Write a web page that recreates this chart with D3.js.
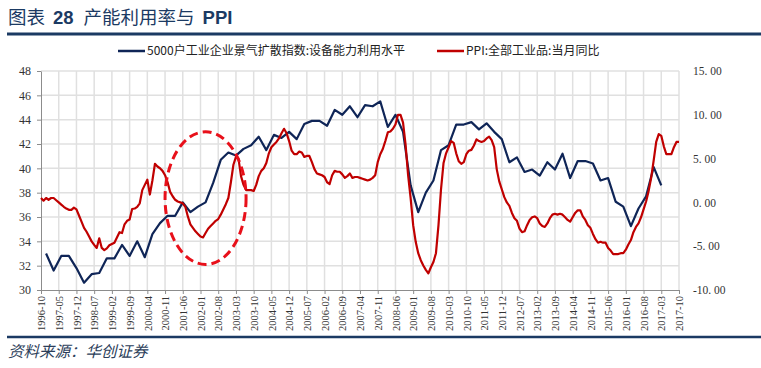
<!DOCTYPE html>
<html>
<head>
<meta charset="utf-8">
<script src="https://cdn.jsdelivr.net/npm/d3@7"></script>
<style>
  body { margin: 0; background: #fff; }
  svg { display: block; }
</style>
</head>
<body>
<div id="chart"></div>
<script>
'use strict';

// tick labels of the date axis (every 7 months)
const x_tick_labels = ['1996-10','1997-05','1997-12','1998-07','1999-02','1999-09','2000-04','2000-11',
    '2001-06','2002-01','2002-08','2003-03','2003-10','2004-05','2004-12','2005-07','2006-02','2006-09',
    '2007-04','2007-11','2008-06','2009-01','2009-08','2010-03','2010-10','2011-05','2011-12','2012-07',
    '2013-02','2013-09','2014-04','2014-11','2015-06','2016-01','2016-08','2017-03','2017-10'];

const left_ticks = [30, 32, 34, 36, 38, 40, 42, 44, 46, 48];
const right_ticks = [-10, -5, 0, 5, 10, 15];

const series_names = ['5000户工业企业景气扩散指数:设备能力利用水平', 'PPI:全部工业品:当月同比'];

// quarterly capacity utilisation, first quarter 1996-12
const util_start = '1996-12';
const util_values = [33.0, 31.6, 32.8, 32.8, 31.8, 30.6, 31.3, 31.4, 32.6, 32.6,
    33.7, 32.8, 34.0, 32.7, 34.6, 35.5, 36.1, 36.1, 37.2, 36.4,
    36.85, 37.2, 38.8, 40.7, 41.3, 41.05, 41.6, 41.9, 42.6, 41.5,
    42.75, 42.5, 43.0, 42.4, 43.65, 43.9, 43.9, 43.5, 44.8, 44.4,
    45.1, 44.2, 45.2, 45.1, 45.5, 43.4, 44.4, 43.0, 38.6, 36.4,
    38.0, 39.0, 41.5, 41.9, 43.6, 43.6, 43.8, 43.2, 43.7, 43.0,
    42.4, 40.5, 40.9, 39.7, 39.9, 39.4, 40.5, 39.9, 41.2, 39.2,
    40.6, 40.6, 40.4, 39.0, 39.2, 37.25, 36.85, 35.25, 36.7, 37.7,
    40.1, 38.6];

// monthly PPI yoy, first month 1996-10
const ppi_start = '1996-10';
const ppi_values = [0.5, 0.2, 0.5, 0.3, 0.5, 0.5, 0.25, 0.0, -0.25, -0.5,
    -0.7, -0.85, -0.85, -0.6, -0.8, -1.5, -2.2, -2.9, -3.35, -3.9,
    -4.45, -4.85, -5.2, -4.1, -5.2, -5.45, -5.25, -4.9, -4.75, -4.6,
    -4.0, -3.4, -3.5, -2.5, -2.1, -1.95, -0.75, -0.7, -0.5, -0.1,
    1.4, 2.0, 2.6, 0.9, 2.5, 4.4, 4.1, 3.9, 3.6, 3.1,
    2.3, 1.2, 0.7, 0.3, 0.1, 0.0, -0.1, -0.5, -1.6, -2.5,
    -2.9, -3.3, -3.6, -3.9, -4.0, -3.5, -3.0, -2.7, -2.4, -2.1,
    -1.9, -1.4, -0.8, -0.2, 0.5, 2.3, 4.3, 5.2, 5.0, 3.0,
    2.0, 1.4, 1.4, 1.4, 1.3, 2.0, 3.0, 3.6, 3.9, 4.5,
    5.6, 6.3, 6.6, 6.9, 7.3, 7.9, 8.4, 7.9, 7.0, 5.9,
    5.5, 5.5, 5.8, 5.7, 5.2, 5.3, 5.3, 4.6, 3.8, 3.3,
    3.2, 3.1, 2.9, 2.3, 2.1, 3.1, 3.6, 3.5, 3.5, 3.2,
    2.8, 3.0, 3.3, 2.8, 2.9, 2.9, 2.8, 2.7, 2.6, 2.5,
    2.6, 2.8, 3.1, 4.6, 5.5, 6.1, 7.0, 8.0, 8.1, 8.4,
    8.9, 10.0, 10.0, 9.1, 6.6, 3.1, 0.5, -2.6, -4.5, -5.8,
    -6.6, -7.2, -7.7, -8.1, -7.4, -6.8, -5.8, -2.6, 1.5, 4.5,
    5.6, 6.3, 7.0, 6.8, 5.6, 4.7, 4.4, 4.6, 5.5, 5.9,
    6.0, 6.5, 7.2, 7.0, 6.9, 7.0, 7.3, 7.5, 7.1, 6.3,
    3.8, 2.4, 1.5, 0.6, 0.0, -0.4, -1.2, -1.8, -2.1, -3.0,
    -3.4, -3.3, -2.6, -2.0, -1.7, -1.6, -1.8, -2.4, -2.7, -2.8,
    -2.4, -1.8, -1.4, -1.3, -1.4, -1.3, -1.4, -1.7, -2.0, -2.2,
    -1.7, -1.2, -0.9, -0.9, -1.6, -2.0, -2.6, -2.9, -3.6, -4.2,
    -4.6, -4.5, -4.6, -4.6, -5.2, -5.5, -5.9, -5.9, -5.9, -5.8,
    -5.8, -5.4, -4.8, -4.3, -3.4, -2.8, -2.4, -1.7, -0.8, 0.1,
    1.3, 2.8, 4.8, 6.9, 7.8, 7.6, 6.4, 5.5, 5.5, 5.5,
    6.3, 6.9, 6.9];

// dashed ellipse annotation (date range / left-axis range it encloses)
const highlight = { from: '2000-11', to: '2003-07', low: 32.1, high: 43.0 };

// layout
const width = 761, height = 368;
const plot = { left: 41, right: 679, top: 71, bottom: 290 };
const navy = '#1b3a63';
const color_util = '#0f2557';
const color_ppi = '#c00000';
const grid_color = '#e0e0e0';
const axis_color = '#8c8c8c';
const num_font = '"Liberation Serif", "DejaVu Serif", serif';
const cjk_font = '"Noto Sans CJK SC", "Noto Sans", sans-serif';
const latin_font = '"Liberation Sans", Arial, sans-serif';

// month index counted from 1996-10
function month_index(s){
    const [y, m] = s.split('-').map(Number);
    return (y - 1996)*12 + (m - 10);
}

const util_data = util_values.map((v, i) => ({ m: month_index(util_start) + 3*i, v: v }));
const ppi_data = ppi_values.map((v, i) => ({ m: month_index(ppi_start) + i, v: v }));

// scales
const x = d3.scaleLinear()
    .domain([month_index(x_tick_labels[0]), month_index(x_tick_labels[x_tick_labels.length - 1])])
    .range([plot.left, plot.right]);
const y_left = d3.scaleLinear().domain([30, 48]).range([plot.bottom, plot.top]);
const y_right = d3.scaleLinear().domain([-10, 15]).range([plot.bottom, plot.top]);

const svg = d3.select('#chart').append('svg')
    .attr('width', width)
    .attr('height', height);

svg.append('rect').attr('width', width).attr('height', height).attr('fill', '#fff');

// title
const title = svg.append('text')
    .attr('x', 8)
    .attr('y', 24)
    .attr('fill', navy)
    .attr('font-family', cjk_font)
    .attr('font-size', '18.5px');
title.append('tspan').text('图表');
title.append('tspan').attr('dx', 8).attr('font-family', latin_font).attr('font-weight', 'bold').text('28');
title.append('tspan').attr('dx', 10).text('产能利用率与');
title.append('tspan').attr('dx', 8).attr('font-family', latin_font).attr('font-weight', 'bold').text('PPI');

svg.append('line')
    .attr('x1', 7).attr('x2', width)
    .attr('y1', 34).attr('y2', 34)
    .attr('stroke', navy)
    .attr('stroke-width', 3);

// legend
const legend_items = [
    { name: series_names[0], color: color_util, x: 118 },
    { name: series_names[1], color: color_ppi, x: 437 }
];
const legend_g = svg.append('g').attr('transform', 'translate(0,51)');
legend_items.forEach(d => {
    legend_g.append('line')
        .attr('x1', d.x).attr('x2', d.x + 27)
        .attr('y1', 0).attr('y2', 0)
        .attr('stroke', d.color)
        .attr('stroke-width', 2.5);
    legend_g.append('text')
        .attr('x', d.x + 29)
        .attr('y', 0)
        .attr('dy', '0.35em')
        .attr('fill', '#222')
        .attr('font-family', cjk_font)
        .attr('font-size', '12px')
        .text(d.name);
});

// grid
const x_tick_values = x_tick_labels.map(month_index);
const grid_g = svg.append('g');
grid_g.selectAll('line.h')
    .data(left_ticks.slice(1))
    .enter()
    .append('line')
    .attr('x1', plot.left).attr('x2', plot.right)
    .attr('y1', d => y_left(d)).attr('y2', d => y_left(d))
    .attr('stroke', grid_color)
    .attr('stroke-width', 1.5);
grid_g.selectAll('line.v')
    .data(x_tick_values.slice(1))
    .enter()
    .append('line')
    .attr('x1', d => x(d)).attr('x2', d => x(d))
    .attr('y1', plot.top).attr('y2', plot.bottom)
    .attr('stroke', grid_color)
    .attr('stroke-width', 1.5);

// axes
const left_axis = svg.append('g')
    .attr('transform', `translate(${plot.left},0)`)
    .call(d3.axisLeft(y_left).tickValues(left_ticks).tickSize(4).tickSizeOuter(0).tickPadding(6));

const bottom_axis = svg.append('g')
    .attr('transform', `translate(0,${plot.bottom})`)
    .call(d3.axisBottom(x).tickValues(x_tick_values)
        .tickFormat((d, i) => x_tick_labels[i])
        .tickSize(4).tickSizeOuter(0));

bottom_axis.selectAll('text')
    .attr('text-anchor', 'end')
    .attr('transform', 'rotate(-90)')
    .attr('x', -6)
    .attr('y', 0)
    .attr('dy', '0.35em')
    .attr('font-size', '10.5px');

const right_axis = svg.append('g')
    .attr('transform', `translate(${plot.right},0)`)
    .call(d3.axisRight(y_right).tickValues(right_ticks)
        .tickFormat(d => d3.format('.2f')(d).replace('\u2212', '-').replace('.', '. '))
        .tickSize(0).tickPadding(14));
right_axis.select('.domain').remove();

[left_axis, bottom_axis, right_axis].forEach(g => {
    g.selectAll('.domain, .tick line').attr('stroke', axis_color);
    g.selectAll('text').attr('fill', '#333').attr('font-family', num_font);
});
left_axis.selectAll('text').attr('font-size', '12px');
right_axis.selectAll('text').attr('font-size', '11.5px').style('white-space', 'pre');

// lines
const util_line = d3.line().x(d => x(d.m)).y(d => y_left(d.v));
const ppi_line = d3.line().x(d => x(d.m)).y(d => y_right(d.v));

svg.append('path')
    .datum(util_data)
    .attr('d', util_line)
    .attr('fill', 'none')
    .attr('stroke', color_util)
    .attr('stroke-width', 2.2)
    .attr('stroke-linejoin', 'round');

svg.append('path')
    .datum(ppi_data)
    .attr('d', ppi_line)
    .attr('fill', 'none')
    .attr('stroke', color_ppi)
    .attr('stroke-width', 2.2)
    .attr('stroke-linejoin', 'round');

// dashed ellipse
const e_x0 = x(month_index(highlight.from)), e_x1 = x(month_index(highlight.to));
const e_y0 = y_left(highlight.high), e_y1 = y_left(highlight.low);
svg.append('ellipse')
    .attr('cx', (e_x0 + e_x1)/2)
    .attr('cy', (e_y0 + e_y1)/2)
    .attr('rx', (e_x1 - e_x0)/2)
    .attr('ry', (e_y1 - e_y0)/2)
    .attr('fill', 'none')
    .attr('stroke', '#e8101a')
    .attr('stroke-width', 3)
    .attr('stroke-dasharray', '9,5');

// source
svg.append('line')
    .attr('x1', 7).attr('x2', width)
    .attr('y1', 337).attr('y2', 337)
    .attr('stroke', navy)
    .attr('stroke-width', 2.5);

svg.append('text')
    .attr('x', 8)
    .attr('y', 357)
    .attr('fill', '#2c3e5a')
    .attr('font-family', cjk_font)
    .attr('font-size', '15.5px')
    .attr('font-style', 'italic')
    .text('资料来源：华创证券');
</script>
</body>
</html>
